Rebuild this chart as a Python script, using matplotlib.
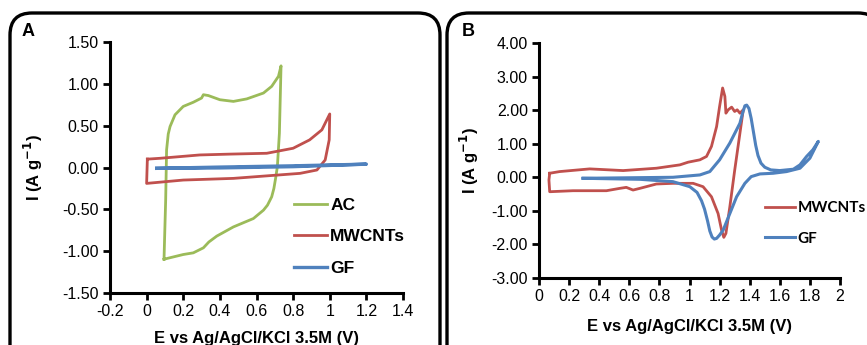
import numpy as np
import matplotlib
matplotlib.use("Agg")
import matplotlib.pyplot as plt
from matplotlib.patches import FancyBboxPatch

plt.rcParams["font.family"] = ["Liberation Sans", "DejaVu Sans"]

# ---- panel A: CV at low scan range ----
ac_e = [0.095, 0.100, 0.104, 0.109, 0.118, 0.128, 0.155, 0.20, 0.255, 0.30, 0.31, 0.337,
        0.40, 0.474, 0.547, 0.638, 0.683, 0.72, 0.734, 0.725, 0.714, 0.705, 0.695, 0.683,
        0.66, 0.638, 0.583, 0.474, 0.383, 0.34, 0.31, 0.255, 0.20, 0.095]
ac_i = [-1.096, -0.70, -0.39, 0.21, 0.40, 0.49, 0.63, 0.73, 0.78, 0.83, 0.87, 0.86,
        0.81, 0.79, 0.82, 0.89, 0.97, 1.09, 1.215, 0.41, 0.01, -0.12, -0.25, -0.35,
        -0.45, -0.51, -0.61, -0.71, -0.82, -0.89, -0.96, -1.02, -1.04, -1.096]

mw_a_e = [0.004, 0.073, 0.29, 0.455, 0.656, 0.80, 0.89, 0.957, 1.0, 0.997, 0.975, 0.93,
          0.838, 0.656, 0.474, 0.20, 0.0, 0.004]
mw_a_i = [0.10, 0.11, 0.15, 0.16, 0.17, 0.23, 0.33, 0.45, 0.64, 0.33, 0.09, -0.03,
          -0.07, -0.10, -0.13, -0.15, -0.19, 0.10]

gf_a_e = [0.055, 0.4, 0.8, 1.2, 0.8, 0.4, 0.055]
gf_a_i = [-0.01, 0.005, 0.02, 0.04, 0.01, -0.005, -0.01]

# ---- panel B: CV with redox peaks ----
mw_b_e = [0.071, 0.137, 0.337, 0.559, 0.78, 0.936, 0.991, 1.069, 1.113, 1.146, 1.18, 1.20,
          1.22, 1.235, 1.242, 1.257, 1.28, 1.30, 1.317, 1.335, 1.357, 1.30, 1.268, 1.242,
          1.228, 1.213, 1.19, 1.146, 1.09, 1.024, 0.89, 0.78, 0.67, 0.625, 0.58, 0.537,
          0.448, 0.337, 0.226, 0.071, 0.066, 0.071]
mw_b_i = [0.12, 0.17, 0.25, 0.20, 0.27, 0.37, 0.45, 0.52, 0.62, 0.92, 1.51, 2.11,
          2.66, 2.41, 1.91, 2.01, 2.09, 1.96, 2.01, 1.91, 2.01, 0.20, -0.88, -1.67,
          -1.79, -1.57, -1.08, -0.58, -0.28, -0.18, -0.18, -0.20, -0.33, -0.38, -0.30, -0.33,
          -0.40, -0.40, -0.40, -0.43, -0.08, 0.12]

gf_b_e = [0.293, 0.89, 1.069, 1.135, 1.20, 1.268, 1.335, 1.352, 1.368, 1.38, 1.395, 1.41,
          1.425, 1.44, 1.455, 1.475, 1.50, 1.54, 1.60, 1.69, 1.734, 1.778, 1.82, 1.856,
          1.80, 1.734, 1.645, 1.556, 1.468, 1.41, 1.368, 1.313, 1.268, 1.224, 1.20, 1.18,
          1.165, 1.15, 1.135, 1.12, 1.10, 1.08, 1.05, 1.002, 0.89, 0.67, 0.293]
gf_b_i = [-0.03, 0.0, 0.07, 0.17, 0.52, 1.02, 1.61, 1.90, 2.13, 2.15, 2.05, 1.75,
          1.35, 0.95, 0.65, 0.42, 0.30, 0.22, 0.20, 0.24, 0.37, 0.62, 0.82, 1.07,
          0.57, 0.27, 0.17, 0.12, 0.10, 0.02, -0.18, -0.58, -1.08, -1.57, -1.72, -1.82,
          -1.84, -1.78, -1.60, -1.30, -0.95, -0.70, -0.45, -0.28, -0.13, -0.06, -0.03]

GREEN, RED, BLUE = "#9BBB59", "#C0504D", "#4F81BD"
W, H = 867, 345

fig = plt.figure(figsize=(W / 100, H / 100), dpi=100)

# background layer in pixel units for the rounded panel frames
bg = fig.add_axes([0, 0, 1, 1], zorder=-1)
bg.set_xlim(0, W); bg.set_ylim(H, 0); bg.axis("off")
for x0, x1 in [(10, 440), (447, 880)]:
    bg.add_patch(FancyBboxPatch((x0, 13), x1 - x0, 360,
                                boxstyle="round,pad=0,rounding_size=22",
                                fc="white", ec="black", lw=2.4))
bg.text(28, 32, "A", fontsize=13, fontweight="bold", ha="center", va="center")
bg.text(468, 32, "B", fontsize=13, fontweight="bold", ha="center", va="center")


def style(ax):
    for s in ("top", "right"):
        ax.spines[s].set_visible(False)
    for s in ("left", "bottom"):
        ax.spines[s].set_linewidth(2.2)
    ax.tick_params(direction="out", length=5, width=2, labelsize=11.5, pad=3)
    ax.set_xlabel("E vs Ag/AgCl/KCl 3.5M (V)", fontsize=12, fontweight="bold")
    ax.set_ylabel("I (A g$^{\\mathbf{-1}}$)", fontsize=12, fontweight="bold")
    ax.patch.set_alpha(0)


lw = 2.0

axa = fig.add_axes([110 / W, 1 - 293 / H, 293 / W, 251 / H])
axa.plot(ac_e, ac_i, color=GREEN, lw=lw, label="AC")
axa.plot(mw_a_e, mw_a_i, color=RED, lw=lw, label="MWCNTs")
axa.plot(gf_a_e, gf_a_i, color=BLUE, lw=lw + 0.4, label="GF")
axa.set_xlim(-0.2, 1.4); axa.set_ylim(-1.5, 1.5)
axa.set_xticks(np.arange(-0.2, 1.41, 0.2))
axa.set_xticklabels(["-0.2", "0", "0.2", "0.4", "0.6", "0.8", "1", "1.2", "1.4"])
axa.set_yticks(np.arange(-1.5, 1.51, 0.5))
axa.set_yticklabels([f"{v:.2f}" for v in np.arange(-1.5, 1.51, 0.5)])
style(axa)
axa.xaxis.set_label_coords(0.5, -0.15)
axa.yaxis.set_label_coords(-0.222, 0.5)
axa.legend(loc="upper left", bbox_to_anchor=(0.60, 0.415), frameon=False,
           handlelength=1.85, handletextpad=0.2, labelspacing=0.95, borderpad=0,
           prop={"size": 12.5, "weight": "bold"})

axb = fig.add_axes([539 / W, 1 - 278 / H, 301 / W, 235 / H])
axb.plot(mw_b_e, mw_b_i, color=RED, lw=lw, label="MWCNTs")
axb.plot(gf_b_e, gf_b_i, color=BLUE, lw=lw + 0.2, label="GF")
axb.set_xlim(0, 2); axb.set_ylim(-3, 4)
axb.set_xticks(np.arange(0, 2.01, 0.2))
axb.set_xticklabels(["0", "0.2", "0.4", "0.6", "0.8", "1", "1.2", "1.4", "1.6", "1.8", "2"])
axb.set_yticks(np.arange(-3, 4.01, 1))
axb.set_yticklabels([f"{v:.2f}" for v in np.arange(-3, 4.01, 1)])
style(axb)
axb.xaxis.set_label_coords(0.5, -0.175)
axb.yaxis.set_label_coords(-0.193, 0.5)
axb.legend(loc="upper left", bbox_to_anchor=(0.725, 0.36), frameon=False,
           handlelength=1.95, handletextpad=0.2, labelspacing=1.1, borderpad=0,
           prop={"family": "Lato", "size": 11, "weight": "bold"})

fig.savefig("out.png", dpi=100)
